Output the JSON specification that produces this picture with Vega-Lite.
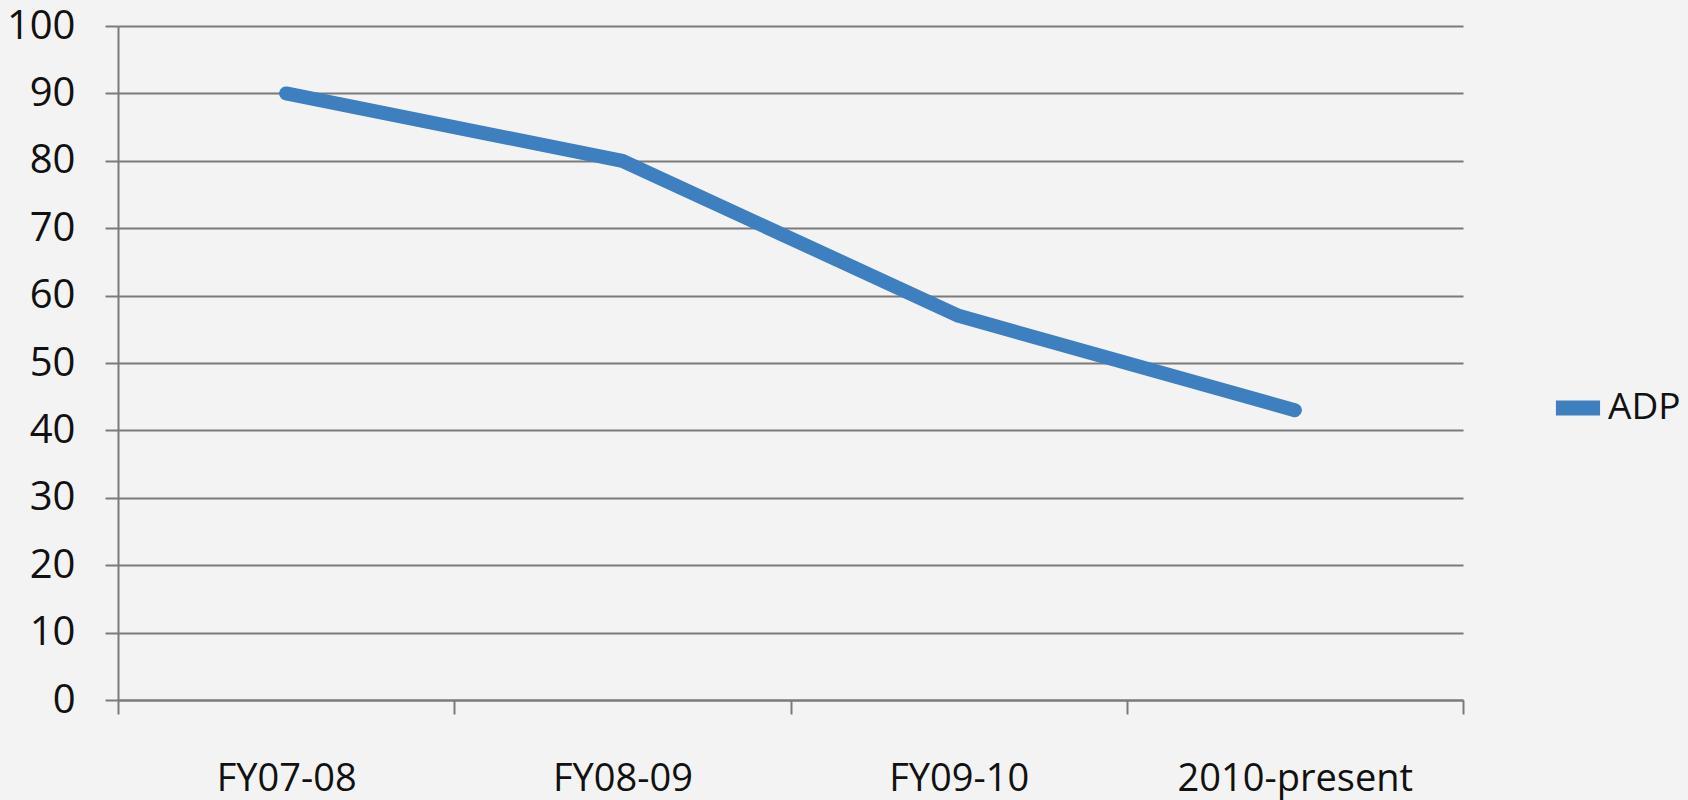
{
  "$schema": "https://vega.github.io/schema/vega-lite/v6.json",
  "width": 1345,
  "height": 674,
  "autosize": {"type": "none"},
  "padding": {"left": 118, "top": 26, "right": 225, "bottom": 100},
  "background": "#f3f3f3",
  "data": {
    "values": [
      {"period": "FY07-08", "value": 90, "series": "ADP"},
      {"period": "FY08-09", "value": 80, "series": "ADP"},
      {"period": "FY09-10", "value": 57, "series": "ADP"},
      {"period": "2010-present", "value": 43, "series": "ADP"}
    ]
  },
  "config": {
    "font": "Open Sans",
    "view": {"stroke": null},
    "axis": {
      "labelFont": "Open Sans",
      "labelColor": "#111111",
      "gridColor": "#7a7a7a",
      "gridWidth": 2,
      "gridOpacity": 1,
      "tickColor": "#7a7a7a",
      "tickWidth": 2,
      "domainColor": "#7a7a7a",
      "domainWidth": 2,
      "title": null
    }
  },
  "mark": {"type": "line", "strokeWidth": 14, "strokeCap": "round", "strokeJoin": "round", "color": "#3d7fbf"},
  "encoding": {
    "x": {
      "field": "period",
      "type": "nominal",
      "sort": ["FY07-08", "FY08-09", "FY09-10", "2010-present"],
      "scale": {"paddingInner": 0, "paddingOuter": 0},
      "axis": {
        "labelAngle": 0,
        "labelFontSize": 38,
        "labelLimit": 0,
        "tickBand": "extent",
        "tickSize": 14,
        "labelPadding": 46,
        "grid": false,
        "domain": true
      }
    },
    "y": {
      "field": "value",
      "type": "quantitative",
      "scale": {"domain": [0, 100], "nice": false},
      "axis": {
        "values": [0, 10, 20, 30, 40, 50, 60, 70, 80, 90, 100],
        "labelFontSize": 40,
        "tickSize": 13,
        "labelPadding": 30,
        "grid": true,
        "domain": true
      }
    },
    "color": {
      "field": "series",
      "type": "nominal",
      "scale": {"range": ["#3d7fbf"]},
      "legend": {
        "title": null,
        "orient": "none",
        "legendX": 1430,
        "legendY": 352,
        "symbolType": "stroke",
        "symbolStrokeWidth": 15,
        "symbolSize": 1950,
        "labelFontSize": 37,
        "labelColor": "#111111",
        "labelOffset": 0
      }
    }
  }
}
